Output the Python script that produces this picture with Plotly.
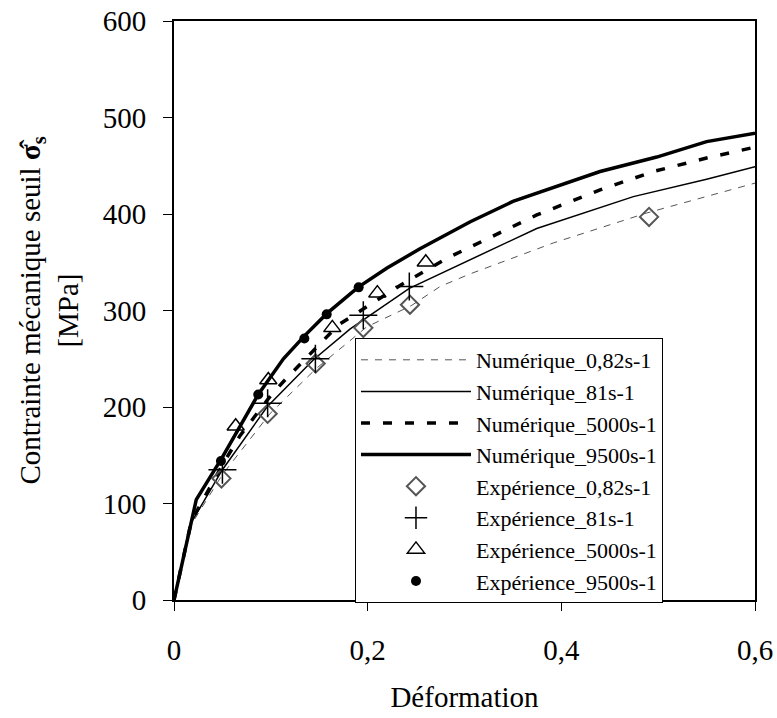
import plotly.graph_objects as go

# ---- Numerical curves (strain, stress MPa) ----
num_082_x = [0, 0.0165, 0.05, 0.099, 0.147, 0.199, 0.245, 0.275, 0.306, 0.3917, 0.488, 0.55, 0.6, 0.625]
num_082_y = [0, 76, 130, 193, 240, 283, 305, 325, 338, 370, 401, 418, 432, 437]

num_81_x = [0, 0.0165, 0.05, 0.096, 0.144, 0.182, 0.243, 0.275, 0.306, 0.3746, 0.4744, 0.55, 0.6, 0.625]
num_81_y = [0, 78, 135, 200, 249, 281, 323, 338, 353, 385, 418, 436, 449, 453]

num_5000_x = [0, 0.018, 0.05, 0.068, 0.1, 0.1164, 0.1697, 0.2334, 0.2816, 0.3746, 0.44, 0.495, 0.55, 0.6, 0.625]
num_5000_y = [0, 82, 140, 170, 212, 230, 285, 326, 354, 399, 425, 444, 458, 470, 475]

num_9500_x = [0, 0.023, 0.05, 0.087, 0.113, 0.135, 0.158, 0.19, 0.22, 0.254, 0.306, 0.35, 0.44, 0.4985, 0.55, 0.6, 0.625]
num_9500_y = [0, 104, 148, 213, 250, 274, 297, 324, 344, 364, 392, 413, 444, 459, 475, 484, 488]

# ---- Experimental points ----
exp_082_x = [0.049, 0.0967, 0.1463, 0.1955, 0.2437, 0.4906]
exp_082_y = [126, 193, 245, 282, 306, 397]

exp_81_x = [0.05, 0.0967, 0.146, 0.1955, 0.243]
exp_81_y = [135, 204, 250, 295, 325]

exp_5000_x = [0.0637, 0.0974, 0.1635, 0.21, 0.26]
exp_5000_y = [180, 228, 282, 318, 350]

exp_9500_x = [0.0485, 0.087, 0.1346, 0.1577, 0.1907]
exp_9500_y = [144, 213, 271, 296, 324]

x_tickvals = [0, 0.2, 0.4, 0.6]
x_ticktext = ["0", "0,2", "0,4", "0,6"]
y_tickvals = [0, 100, 200, 300, 400, 500, 600]
y_ticktext = ["0", "100", "200", "300", "400", "500", "600"]

FONT = "Liberation Serif, Times New Roman, Tinos, DejaVu Serif, serif"

fig = go.Figure()

fig.add_trace(go.Scatter(x=num_082_x, y=num_082_y, mode="lines", name="Numérique_0,82s-1",
                         line=dict(color="#555555", width=1, dash="7px,7px")))
fig.add_trace(go.Scatter(x=num_81_x, y=num_81_y, mode="lines", name="Numérique_81s-1",
                         line=dict(color="black", width=1.5)))
fig.add_trace(go.Scatter(x=num_5000_x, y=num_5000_y, mode="lines", name="Numérique_5000s-1",
                         line=dict(color="black", width=3.5, dash="9px,13px")))
fig.add_trace(go.Scatter(x=num_9500_x, y=num_9500_y, mode="lines", name="Numérique_9500s-1",
                         line=dict(color="black", width=3.5)))

fig.add_trace(go.Scatter(x=exp_082_x, y=exp_082_y, mode="markers", name="Expérience_0,82s-1",
                         marker=dict(symbol="diamond-open", size=14, color="#555555",
                                     line=dict(width=2, color="#555555"))))
fig.add_trace(go.Scatter(x=exp_81_x, y=exp_81_y, mode="markers", name="Expérience_81s-1",
                         marker=dict(symbol="cross-thin-open", size=20, color="black",
                                     line=dict(width=1.5, color="black"))))
fig.add_trace(go.Scatter(x=exp_5000_x, y=exp_5000_y, mode="markers", name="Expérience_5000s-1",
                         marker=dict(symbol="triangle-up-open", size=15, color="black",
                                     line=dict(width=1.5, color="black"))))
fig.add_trace(go.Scatter(x=exp_9500_x, y=exp_9500_y, mode="markers", name="Expérience_9500s-1",
                         marker=dict(symbol="circle", size=10, color="black")))

fig.update_layout(
    width=777, height=718,
    margin=dict(l=174, r=22, t=21, b=118),
    paper_bgcolor="white", plot_bgcolor="white",
    font=dict(family=FONT, color="black", size=27),
    showlegend=True,
    legend=dict(x=0.3115, y=0.4525, xanchor="left", yanchor="top",
                bgcolor="white", bordercolor="black", borderwidth=1,
                font=dict(family=FONT, size=22, color="black"),
                tracegroupgap=0, itemwidth=110),
    xaxis=dict(range=[0, 0.6], tickvals=x_tickvals, ticktext=x_ticktext, automargin=False,
               ticklabeloverflow="allow",
               showgrid=False, zeroline=False, showline=True, linecolor="black", linewidth=2,
               mirror=True, ticks="outside", ticklen=9, tickcolor="black", tickwidth=1,
               ticklabelstandoff=14, tickfont=dict(family=FONT, size=29),
               title=dict(text="Déformation", font=dict(family=FONT, size=29), standoff=22)),
    yaxis=dict(range=[0, 600], tickvals=y_tickvals, ticktext=y_ticktext, automargin=False,
               ticklabeloverflow="allow",
               showgrid=False, zeroline=False, showline=True, linecolor="black", linewidth=2,
               mirror=True, ticks="outside", ticklen=9, tickcolor="black", tickwidth=1,
               ticklabelstandoff=11, tickfont=dict(family=FONT, size=29),
               title=dict(text="Contrainte mécanique seuil <b>σ̂<sub>s</sub></b><br>[MPa]",
                          font=dict(family=FONT, size=29), standoff=16)),
)

# remove the default 8px page margin so the 777x718 figure fills the window exactly
fig.write_html("out.html", config={"displayModeBar": False},
               post_script="document.body.style.margin='0';document.body.style.overflow='hidden';")
